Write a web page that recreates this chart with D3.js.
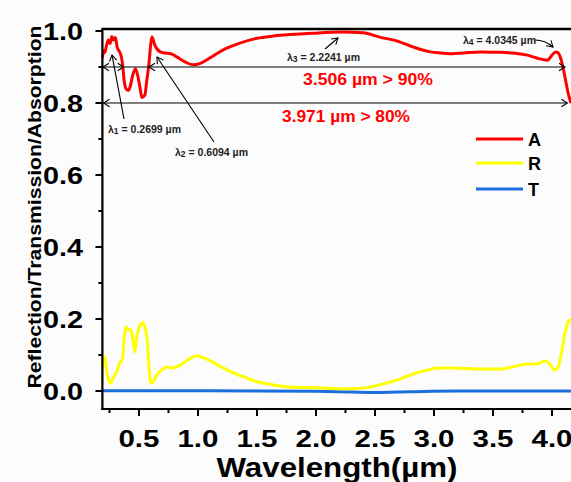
<!DOCTYPE html>
<html>
<head>
<meta charset="utf-8">
<script src="https://cdn.jsdelivr.net/npm/d3@7"></script>
<style>
  html, body { margin: 0; padding: 0; background: #fcfcfc; }
  svg { display: block; font-family: "Liberation Sans", Arial, sans-serif; }
</style>
</head>
<body>
<svg id="chart" width="571" height="482"></svg>
<script>
// absorption (A)
const wavelengthA = [0.19, 0.2, 0.21, 0.225, 0.24, 0.255, 0.27, 0.285, 0.3, 0.315, 0.33, 0.345,
    0.36, 0.375, 0.39, 0.41, 0.425, 0.445, 0.47, 0.49, 0.51, 0.525, 0.55, 0.565, 0.585, 0.6,
    0.61, 0.635, 0.68, 0.72, 0.77, 0.82, 0.89, 0.96, 1.02, 1.1, 1.21, 1.36, 1.5, 1.64, 1.78,
    1.98, 2.22, 2.4, 2.54, 2.69, 2.82, 2.97, 3.05, 3.15, 3.25, 3.39, 3.53, 3.67, 3.79, 3.87,
    3.96, 4.0, 4.03, 4.05, 4.085, 4.11, 4.135, 4.16];
const absorption = [0.925, 0.945, 0.94, 0.96, 0.975, 0.965, 0.985, 0.975, 0.982, 0.955, 0.945, 0.935,
    0.91, 0.86, 0.84, 0.835, 0.845, 0.875, 0.895, 0.875, 0.84, 0.815, 0.822, 0.86, 0.91, 0.965,
    0.983, 0.96, 0.942, 0.939, 0.937, 0.928, 0.914, 0.906, 0.91, 0.925, 0.947, 0.967, 0.98, 0.986, 0.99,
    0.994, 0.997, 0.995, 0.983, 0.972, 0.956, 0.942, 0.939, 0.937, 0.939, 0.942, 0.941, 0.939, 0.933, 0.925,
    0.919, 0.933, 0.942, 0.94, 0.911, 0.872, 0.83, 0.8];

// reflection (R)
const wavelengthR = [0.19, 0.2, 0.21, 0.22, 0.235, 0.26, 0.28, 0.31, 0.34, 0.36, 0.375, 0.39,
    0.41, 0.43, 0.45, 0.465, 0.48, 0.51, 0.535, 0.555, 0.57, 0.585, 0.6, 0.62, 0.65, 0.69, 0.74,
    0.79, 0.85, 0.94, 0.99, 1.05, 1.17, 1.28, 1.39, 1.51, 1.64, 1.78, 2.0, 2.26, 2.4, 2.54, 2.69,
    2.82, 2.94, 3.03, 3.16, 3.39, 3.56, 3.67, 3.79, 3.87, 3.94, 3.98, 4.025, 4.05, 4.085, 4.11,
    4.135, 4.16];
const reflection = [0.07, 0.09, 0.095, 0.07, 0.04, 0.022, 0.036, 0.053, 0.08, 0.088, 0.15, 0.178,
    0.17, 0.17, 0.14, 0.108, 0.147, 0.183, 0.19, 0.17, 0.142, 0.067, 0.022, 0.025, 0.044, 0.058, 0.067,
    0.064, 0.072, 0.092, 0.097, 0.092, 0.072, 0.053, 0.039, 0.025, 0.017, 0.011, 0.009, 0.006, 0.008, 0.017, 0.031,
    0.047, 0.058, 0.064, 0.064, 0.061, 0.061, 0.067, 0.075, 0.075, 0.083, 0.075, 0.058, 0.065, 0.114, 0.161,
    0.19, 0.2];

// transmission (T)
const wavelengthT = [0.19, 1.0, 1.5, 2.0, 2.3, 2.5, 2.8, 3.2, 4.16];
const transmission = [0.001, 0.001, 0.0, -0.001, -0.003, -0.004, -0.002, 0.0, 0.0];

const xTicks = [0.5, 1.0, 1.5, 2.0, 2.5, 3.0, 3.5, 4.0];
const xMinorTicks = [0.25, 0.75, 1.25, 1.75, 2.25, 2.75, 3.25, 3.75];
const yTicks = [0.0, 0.2, 0.4, 0.6, 0.8, 1.0];
const yMinorTicks = [0.1, 0.3, 0.5, 0.7, 0.9];

const seriesNames = ["A", "R", "T"];
const seriesColors = ["#ff0000", "#ffff00", "#1a6fdc"];

const svg = d3.select("#chart");

const x = d3.scaleLinear().domain([0.19, 4.2]).range([102.4, 575.6]);
const y = d3.scaleLinear().domain([-0.05, 1.0]).range([409, 31]);

const plotTop = 29;

function toPoints(xs, ys) {
    return xs.map((w, i) => [w, ys[i]]);
}

const line = d3.line()
    .x(d => x(d[0]))
    .y(d => y(d[1]))
    .curve(d3.curveMonotoneX);

// curves
const series = [
    toPoints(wavelengthT, transmission),
    toPoints(wavelengthR, reflection),
    toPoints(wavelengthA, absorption)
];
const seriesOrder = [2, 1, 0];

svg.append("g")
    .selectAll("path")
    .data(series)
    .enter()
    .append("path")
    .attr("d", line)
    .attr("fill", "none")
    .attr("stroke", (d, i) => seriesColors[seriesOrder[i]])
    .attr("stroke-width", 3)
    .attr("stroke-linejoin", "round");

// axes
const axisColor = "#000";
svg.append("line")
    .attr("x1", x.range()[0]).attr("x2", x.range()[0])
    .attr("y1", plotTop).attr("y2", y.range()[0] + 1)
    .attr("stroke", axisColor).attr("stroke-width", 2.2);
svg.append("line")
    .attr("x1", x.range()[0] - 1).attr("x2", 571)
    .attr("y1", y.range()[0]).attr("y2", y.range()[0])
    .attr("stroke", axisColor).attr("stroke-width", 2.2);
svg.append("line")
    .attr("x1", x.range()[0] - 1).attr("x2", 571)
    .attr("y1", plotTop).attr("y2", plotTop)
    .attr("stroke", axisColor).attr("stroke-width", 2.5);

const xAxis = svg.append("g");
xAxis.selectAll("line.major")
    .data(xTicks).enter().append("line")
    .attr("x1", d => x(d)).attr("x2", d => x(d))
    .attr("y1", y.range()[0]).attr("y2", y.range()[0] + 7)
    .attr("stroke", axisColor).attr("stroke-width", 2);
xAxis.selectAll("line.minor")
    .data(xMinorTicks).enter().append("line")
    .attr("x1", d => x(d)).attr("x2", d => x(d))
    .attr("y1", y.range()[0]).attr("y2", y.range()[0] + 4)
    .attr("stroke", axisColor).attr("stroke-width", 2);
xAxis.selectAll("text")
    .data(xTicks).enter().append("text")
    .attr("x", d => x(d))
    .attr("y", 447)
    .attr("text-anchor", "middle")
    .attr("font-size", 24)
    .attr("font-weight", "bold")
    .attr("textLength", 41)
    .attr("lengthAdjust", "spacingAndGlyphs")
    .text(d => d.toFixed(1));

const yAxis = svg.append("g");
yAxis.selectAll("line.major")
    .data(yTicks).enter().append("line")
    .attr("x1", x.range()[0] - 7).attr("x2", x.range()[0])
    .attr("y1", d => y(d)).attr("y2", d => y(d))
    .attr("stroke", axisColor).attr("stroke-width", 2);
yAxis.selectAll("line.minor")
    .data(yMinorTicks).enter().append("line")
    .attr("x1", x.range()[0] - 4).attr("x2", x.range()[0])
    .attr("y1", d => y(d)).attr("y2", d => y(d))
    .attr("stroke", axisColor).attr("stroke-width", 2);
yAxis.selectAll("text")
    .data(yTicks).enter().append("text")
    .attr("x", 83)
    .attr("y", d => y(d) + 8.5)
    .attr("text-anchor", "end")
    .attr("font-size", 24)
    .attr("font-weight", "bold")
    .attr("textLength", 40)
    .attr("lengthAdjust", "spacingAndGlyphs")
    .text(d => d.toFixed(1));

// axis titles
svg.append("text")
    .attr("x", 337)
    .attr("y", 477)
    .attr("text-anchor", "middle")
    .attr("font-size", 28)
    .attr("font-weight", "bold")
    .attr("textLength", 241)
    .attr("lengthAdjust", "spacingAndGlyphs")
    .text("Wavelength(µm)");

svg.append("text")
    .attr("transform", "translate(41,207) rotate(-90)")
    .attr("text-anchor", "middle")
    .attr("font-size", 19)
    .attr("font-weight", "bold")
    .attr("textLength", 363)
    .attr("lengthAdjust", "spacingAndGlyphs")
    .text("Reflection/Transmission/Absorption");

// legend
const legend = svg.append("g");
seriesNames.forEach((name, i) => {
    const ly = [139, 163, 189][i];
    legend.append("line")
        .attr("x1", 476).attr("x2", 523)
        .attr("y1", ly).attr("y2", ly)
        .attr("stroke", seriesColors[i])
        .attr("stroke-width", 3);
    legend.append("text")
        .attr("x", 528)
        .attr("y", ly + 6.5)
        .attr("font-size", 18)
        .attr("font-weight", "bold")
        .text(name);
});

// arrows and annotations
function arrowHead(px, py, dir) {
    // dir: angle in radians the arrow points to
    const len = 7, spread = 0.55;
    const a1 = dir + Math.PI - spread, a2 = dir + Math.PI + spread;
    svg.append("path")
        .attr("d", `M${px + len * Math.cos(a1)},${py + len * Math.sin(a1)} L${px},${py} L${px + len * Math.cos(a2)},${py + len * Math.sin(a2)}`)
        .attr("fill", "none")
        .attr("stroke", "#000")
        .attr("stroke-width", 1.1);
}

function hLine(level, x0, x1) {
    svg.append("line")
        .attr("x1", x(x0)).attr("x2", x(x1))
        .attr("y1", y(level)).attr("y2", y(level))
        .attr("stroke", "#000").attr("stroke-width", 1.1);
}

// 90% band
hLine(0.9, 0.19, 4.11);
arrowHead(x(0.195), y(0.9), Math.PI);
arrowHead(x(0.37), y(0.9), 0);
arrowHead(x(0.585), y(0.9), Math.PI);
arrowHead(x(4.11), y(0.9), 0);

// 80% band
hLine(0.8, 0.19, 4.13);
arrowHead(x(0.2), y(0.8), Math.PI);
arrowHead(x(4.13), y(0.8), 0);

function pointer(x0, y0, x1, y1) {
    svg.append("line")
        .attr("x1", x0).attr("y1", y0)
        .attr("x2", x1).attr("y2", y1)
        .attr("stroke", "#000").attr("stroke-width", 1.1);
    arrowHead(x1, y1, Math.atan2(y1 - y0, x1 - x0));
}

function lambdaLabel(px, py, sub, value) {
    const t = svg.append("text")
        .attr("x", px).attr("y", py)
        .attr("font-size", 10.5)
        .attr("font-weight", "bold")
        .attr("fill", "#222");
    t.append("tspan").text("λ");
    t.append("tspan").attr("font-size", 8.5).attr("dy", 1).text(sub);
    t.append("tspan").attr("dy", -1).text(" = " + value + " µm");
}

lambdaLabel(108, 133, "1", "0.2699");
pointer(124, 119, 112, 55);

lambdaLabel(175, 156, "2", "0.6094");
pointer(214, 142, 157, 57);

lambdaLabel(287, 61, "3", "2.2241");
pointer(325, 49, 338, 38);

lambdaLabel(463, 44, "4", "4.0345");
svg.append("path")
    .attr("d", "M535,40 Q545,40 553,47")
    .attr("fill", "none")
    .attr("stroke", "#000").attr("stroke-width", 1.1);
arrowHead(553, 47, Math.atan2(7, 8));

svg.append("text")
    .attr("x", 368).attr("y", 85)
    .attr("text-anchor", "middle")
    .attr("font-size", 16)
    .attr("font-weight", "bold")
    .attr("fill", "#ff0000")
    .attr("textLength", 130)
    .attr("lengthAdjust", "spacingAndGlyphs")
    .text("3.506 µm > 90%");

svg.append("text")
    .attr("x", 346).attr("y", 122)
    .attr("text-anchor", "middle")
    .attr("font-size", 16)
    .attr("font-weight", "bold")
    .attr("fill", "#ff0000")
    .attr("textLength", 128)
    .attr("lengthAdjust", "spacingAndGlyphs")
    .text("3.971 µm > 80%");
</script>
</body>
</html>
